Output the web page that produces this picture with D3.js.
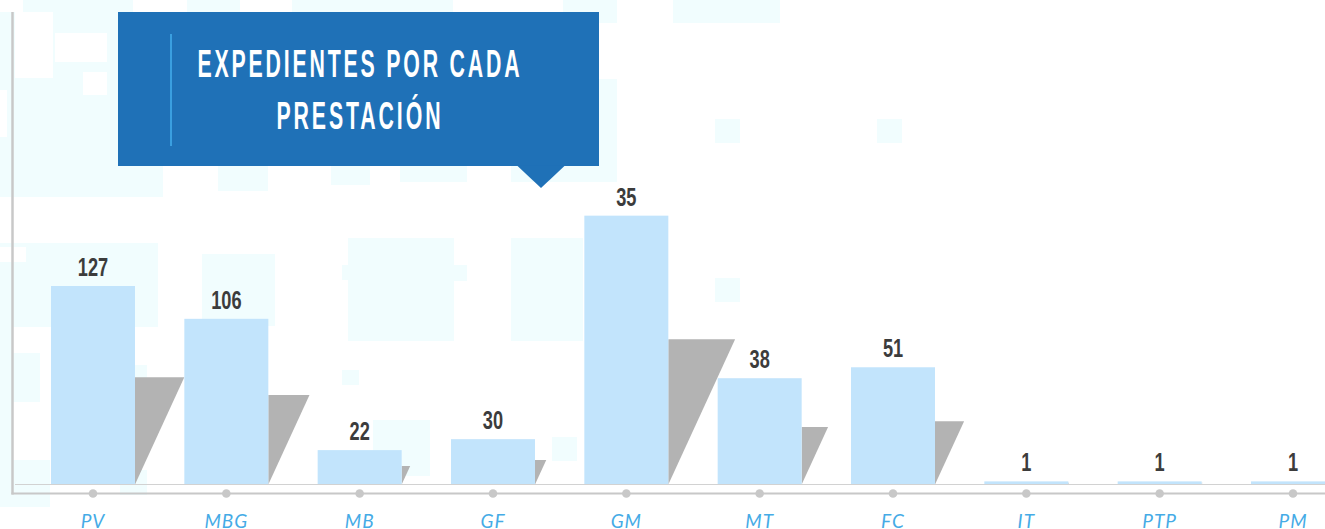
<!DOCTYPE html>
<meta charset="utf-8">
<html>
<head>
<script src="https://d3js.org/d3.v7.min.js"></script>
<style>
  html, body { margin: 0; padding: 0; background: #fff; overflow: hidden; }
  #chart svg { display: block; }
</style>
</head>
<body>
<div id="chart"></div>
<script>

  // categories and values
  const categories = ["PV", "MBG", "MB", "GF", "GM", "MT", "FC", "IT", "PTP", "PM"];
  // bar heights as drawn (value units)
  const barValues = [127, 106, 22, 29, 172, 68, 75, 2, 2, 2];
  // the numbers printed above each bar
  const valueLabels = ["127", "106", "22", "30", "35", "38", "51", "1", "1", "1"];
  const titleLines = ["EXPEDIENTES POR CADA", "PRESTACIÓN"];

  // faint decorative background tiles [x, y, w, h]
  const bgTiles = [
    [0, 12, 118, 185], [23, 0, 110, 12], [187, 0, 53, 12], [292, 0, 161, 12],
    [563, 0, 54, 23], [673, 0, 107, 23], [599, 79, 18, 103],
    [118, 166, 45, 31], [218, 166, 50, 25], [331, 166, 39, 19],
    [400, 166, 67, 16], [511, 166, 106, 16],
    [0, 243, 158, 84], [202, 254, 73, 72], [348, 238, 72, 103], [342, 265, 6, 15],
    [400, 238, 54, 103], [454, 265, 13, 16], [511, 238, 72, 103],
    [715, 119, 25, 24], [877, 119, 25, 24], [715, 278, 25, 24], [552, 437, 25, 24],
    [373, 420, 57, 56], [342, 370, 17, 15], [0, 353, 40, 49], [0, 460, 50, 47],
    [0, 243, 12, 264], [135, 365, 12, 40], [120, 470, 27, 25]
  ];
  // white holes in the first tile
  const bgHoles = [[15, 12, 38, 66], [55, 33, 52, 29], [83, 72, 24, 23], [0, 90, 7, 47], [0, 247, 26, 15]];

  const W = 1325, H = 529;
  const base = 484.5;

  const svg = d3.select("#chart").append("svg")
    .attr("width", W)
    .attr("height", H);

  // background decoration
  svg.append("g").selectAll("rect")
    .data(bgTiles)
    .join("rect")
      .attr("x", d => d[0]).attr("y", d => d[1])
      .attr("width", d => d[2]).attr("height", d => d[3])
      .attr("fill", "#f1fdfe");
  svg.append("g").selectAll("rect")
    .data(bgHoles)
    .join("rect")
      .attr("x", d => d[0]).attr("y", d => d[1])
      .attr("width", d => d[2]).attr("height", d => d[3])
      .attr("fill", "#fff");

  // scales
  const x = d3.scaleBand()
    .domain(categories)
    .range([26.33, 1359.67])
    .paddingInner(0.37)
    .paddingOuter(0.185);

  const y = d3.scaleLinear()
    .domain([0, 180])
    .range([base, base - 180 * 1.563]);

  const data = categories.map((c, i) => ({cat: c, v: barValues[i], label: valueLabels[i]}));

  // gray shadow triangles to the right of each bar
  svg.append("g").selectAll("path")
    .data(data)
    .join("path")
      .attr("d", d => {
        const x0 = x(d.cat) + x.bandwidth();
        const h = (base - y(d.v)) * 0.54;
        return `M${x0},${base - h}L${x0 + h * 0.46},${base - h}L${x0},${base}Z`;
      })
      .attr("fill", "#b3b3b3");

  // bars
  svg.append("g").selectAll("rect")
    .data(data)
    .join("rect")
      .attr("x", d => x(d.cat))
      .attr("y", d => y(d.v))
      .attr("width", x.bandwidth())
      .attr("height", d => base - y(d.v))
      .attr("fill", "#c2e4fc");

  // value labels
  svg.append("g").selectAll("text")
    .data(data)
    .join("text")
      .attr("transform", d => `translate(${x(d.cat) + x.bandwidth() / 2},${y(d.v) - 10}) scale(0.7,1)`)
      .attr("text-anchor", "middle")
      .attr("font-family", "'Liberation Sans', Arial, sans-serif")
      .attr("font-weight", "bold")
      .attr("font-size", 26)
      .attr("fill", "#3c3c3c")
      .text(d => d.label);

  // axis lines
  svg.append("line")
    .attr("x1", 12.5).attr("x2", 12.5).attr("y1", 12).attr("y2", 494.5)
    .attr("stroke", "#c8c8c8").attr("stroke-width", 2.5);
  svg.append("line")
    .attr("x1", 15).attr("x2", W).attr("y1", base).attr("y2", base)
    .attr("stroke", "#d2d2d2").attr("stroke-width", 1.2);
  svg.append("line")
    .attr("x1", 11.5).attr("x2", W).attr("y1", 493.5).attr("y2", 493.5)
    .attr("stroke", "#c8c8c8").attr("stroke-width", 2.2);

  svg.append("g").selectAll("circle")
    .data(categories)
    .join("circle")
      .attr("cx", d => x(d) + x.bandwidth() / 2)
      .attr("cy", 493.5)
      .attr("r", 4.3)
      .attr("fill", "#c8c8c8");

  // category labels through a bottom axis
  const xAxis = svg.append("g")
    .attr("transform", `translate(0,${512})`)
    .call(d3.axisBottom(x).tickSize(0).tickPadding(0));
  xAxis.select(".domain").remove();
  xAxis.selectAll("text")
    .attr("dy", null)
    .attr("y", 16)
    .attr("font-family", "Lato, 'Open Sans', sans-serif")
    .attr("font-style", "italic")
    .attr("font-weight", 400)
    .attr("font-size", 19)
    .attr("letter-spacing", 1)
    .attr("fill", "#45abe6");

  // title box
  const tb = svg.append("g");
  tb.append("rect")
    .attr("x", 118).attr("y", 12).attr("width", 481).attr("height", 154)
    .attr("fill", "#1f71b7");
  tb.append("path")
    .attr("d", "M517,165.5L565,165.5L541,188Z")
    .attr("fill", "#1f71b7");
  tb.append("line")
    .attr("x1", 171).attr("x2", 171).attr("y1", 34).attr("y2", 146)
    .attr("stroke", "#3a9fe0").attr("stroke-width", 2);

  const titleWidths = [322, 164];
  const titleBase = [77, 128.5];
  const sx = 0.56;
  titleLines.forEach((t, i) => {
    tb.append("text")
      .attr("transform", `translate(358.5,${titleBase[i]}) scale(${sx},1)`)
      .attr("text-anchor", "middle")
      .attr("font-family", "'Liberation Sans', Arial, sans-serif")
      .attr("font-weight", "bold")
      .attr("font-size", 38)
      .attr("fill", "#fff")
      .attr("textLength", titleWidths[i] / sx)
      .attr("lengthAdjust", "spacing")
      .text(t);
  });

</script>
</body>
</html>
